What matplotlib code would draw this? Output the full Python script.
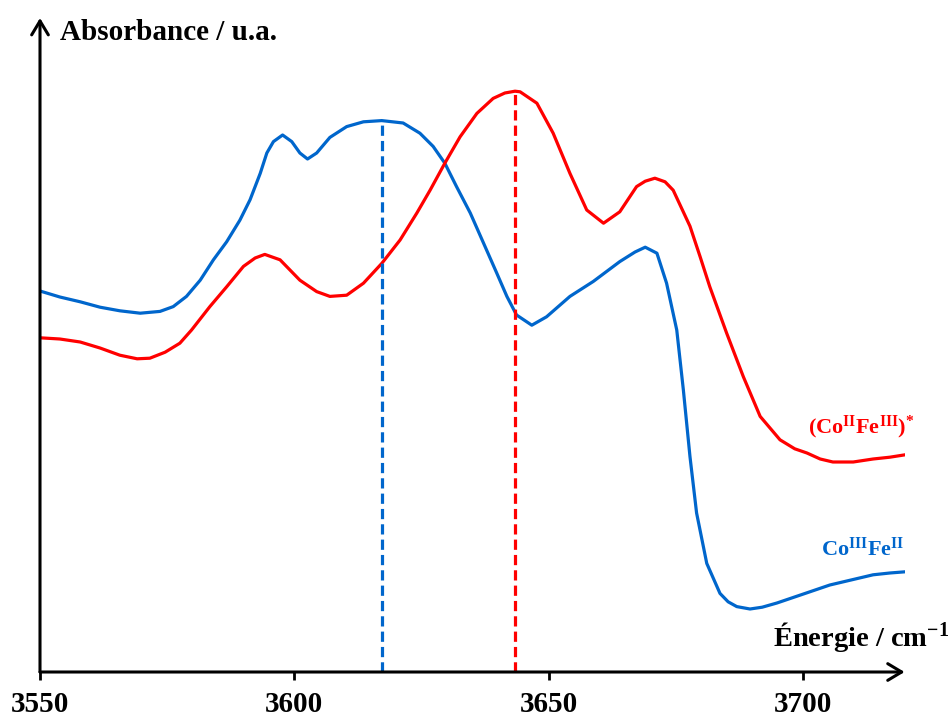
import numpy as np
import matplotlib
matplotlib.use('Agg')
import matplotlib.pyplot as plt

plt.rcParams['font.family'] = ['Liberation Serif', 'DejaVu Serif']
plt.rcParams['font.weight'] = 'bold'
plt.rcParams['mathtext.fontset'] = 'custom'
plt.rcParams['mathtext.rm'] = 'Liberation Serif:bold'
plt.rcParams['mathtext.bf'] = 'Liberation Serif:bold'
plt.rcParams['mathtext.it'] = 'Liberation Serif:bold'

# spectre CoIIIFeII (bleu)
x_blue = [3550.0, 3553.9, 3557.9, 3561.8, 3565.7, 3569.7, 3573.6, 3576.2, 3578.8, 3581.5,
          3584.1, 3586.7, 3589.3, 3591.3, 3593.3, 3594.6, 3595.9, 3597.7, 3599.5, 3601.1,
          3602.6, 3604.4, 3607.0, 3610.3, 3613.6, 3617.2, 3621.4, 3624.7, 3627.3, 3629.6,
          3631.9, 3634.6, 3637.2, 3639.8, 3641.8, 3643.7, 3646.7, 3649.6, 3654.2, 3658.8,
          3664.0, 3667.0, 3669.0, 3671.3, 3673.2, 3675.2, 3676.5, 3677.8, 3679.1, 3681.1,
          3683.7, 3685.3, 3687.0, 3689.6, 3692.0, 3694.9, 3700.8, 3705.3, 3709.3, 3713.8,
          3717.1, 3720.1]
y_blue = [63.5, 62.5, 61.7, 60.8, 60.2, 59.8, 60.1, 60.9, 62.6, 65.3,
          68.7, 71.7, 75.3, 78.7, 83.1, 86.5, 88.4, 89.5, 88.4, 86.5,
          85.5, 86.5, 89.1, 90.9, 91.7, 91.9, 91.5, 89.8, 87.6, 84.8,
          80.9, 76.5, 71.5, 66.5, 62.6, 59.5, 57.8, 59.2, 62.6, 65.1,
          68.4, 70.0, 70.8, 69.8, 64.8, 57.0, 47.0, 35.9, 26.5, 18.1,
          13.1, 11.7, 10.9, 10.5, 10.8, 11.5, 13.2, 14.5, 15.3, 16.2,
          16.5, 16.7]

# spectre (CoIIFeIII)* (rouge)
x_red = [3550.0, 3553.9, 3557.9, 3561.8, 3565.7, 3569.1, 3571.6, 3574.6, 3577.5, 3579.8,
         3583.4, 3586.7, 3590.0, 3592.3, 3594.2, 3597.2, 3601.1, 3604.4, 3607.0, 3610.3,
         3613.6, 3617.2, 3620.8, 3624.1, 3626.7, 3629.6, 3632.6, 3635.9, 3639.1, 3641.4,
         3643.4, 3644.4, 3647.7, 3650.9, 3654.2, 3657.5, 3660.8, 3664.0, 3667.3, 3669.0,
         3670.9, 3672.9, 3674.5, 3677.8, 3679.8, 3681.7, 3685.0, 3688.3, 3691.6, 3695.5,
         3698.4, 3700.8, 3703.4, 3705.9, 3709.9, 3713.8, 3717.1, 3720.1]
y_red = [55.7, 55.5, 55.0, 54.0, 52.8, 52.2, 52.3, 53.3, 54.8, 57.0,
         60.9, 64.2, 67.6, 69.0, 69.6, 68.7, 65.3, 63.4, 62.6, 62.8,
         64.8, 68.1, 72.0, 76.5, 80.3, 84.8, 89.2, 93.1, 95.6, 96.5,
         96.8, 96.7, 94.8, 89.8, 83.1, 77.0, 74.8, 76.7, 80.9, 81.8,
         82.3, 81.7, 80.3, 74.3, 69.2, 64.2, 56.5, 49.2, 42.6, 38.7,
         37.2, 36.5, 35.5, 35.0, 35.0, 35.5, 35.8, 36.2]

# positions des maxima (traits pointillés)
peak_blue = (3617.2, 91.9)
peak_red = (3643.4, 96.8)

xticks = [3550, 3600, 3650, 3700]

blue = '#0066CC'
red = '#FF0000'

fig = plt.figure(figsize=(9.52, 7.2), dpi=100)
ax = fig.add_axes([40/952, 48/720, 864.6/952, 654/720])

ax.plot(x_blue, y_blue, color=blue, lw=2.3, solid_joinstyle='round')
ax.plot(x_red, y_red, color=red, lw=2.3, solid_joinstyle='round')
ax.vlines(peak_blue[0], 0, peak_blue[1], color=blue, lw=2.3, linestyles=(0, (3.2, 1.6)))
ax.vlines(peak_red[0], 0, peak_red[1], color=red, lw=2.3, linestyles=(0, (3.2, 1.6)))

ax.set_xlim(3550, 3720)
ax.set_ylim(0, 109)
for s in ax.spines.values():
    s.set_visible(False)
ax.set_yticks([])
ax.set_xticks(xticks)
ax.set_xticklabels([str(t) for t in xticks], fontsize=21, fontweight='bold')
ax.tick_params(axis='x', direction='out', length=6, width=2, pad=8)

arrow = dict(arrowstyle='->,head_length=0.5,head_width=0.3', lw=2.2, color='black',
             mutation_scale=20, shrinkA=0, shrinkB=0)
ax.annotate('', xy=(1.0, 0), xytext=(0, 0), xycoords='axes fraction',
            arrowprops=arrow, annotation_clip=False)
ax.annotate('', xy=(0, 1.0), xytext=(0, 0), xycoords='axes fraction',
            arrowprops=arrow, annotation_clip=False)

ax.text(0.023, 0.978, 'Absorbance / u.a.', transform=ax.transAxes, fontsize=21,
        fontweight='bold', ha='left', va='center')
ax.text(1.051, 0.053, 'Énergie / cm$^{-1}$', transform=ax.transAxes, fontsize=20.5,
        fontweight='bold', ha='right', va='center', clip_on=False)

ax.text(3722, 40.8, r'(Co$^{\mathrm{II}}$Fe$^{\mathrm{III}}$)$^{*}$', color=red, fontsize=16,
        fontweight='bold', ha='right', va='center')
ax.text(3720, 20.5, r'Co$^{\mathrm{III}}$Fe$^{\mathrm{II}}$', color=blue, fontsize=16,
        fontweight='bold', ha='right', va='center')

fig.savefig('out.png', dpi=100)
